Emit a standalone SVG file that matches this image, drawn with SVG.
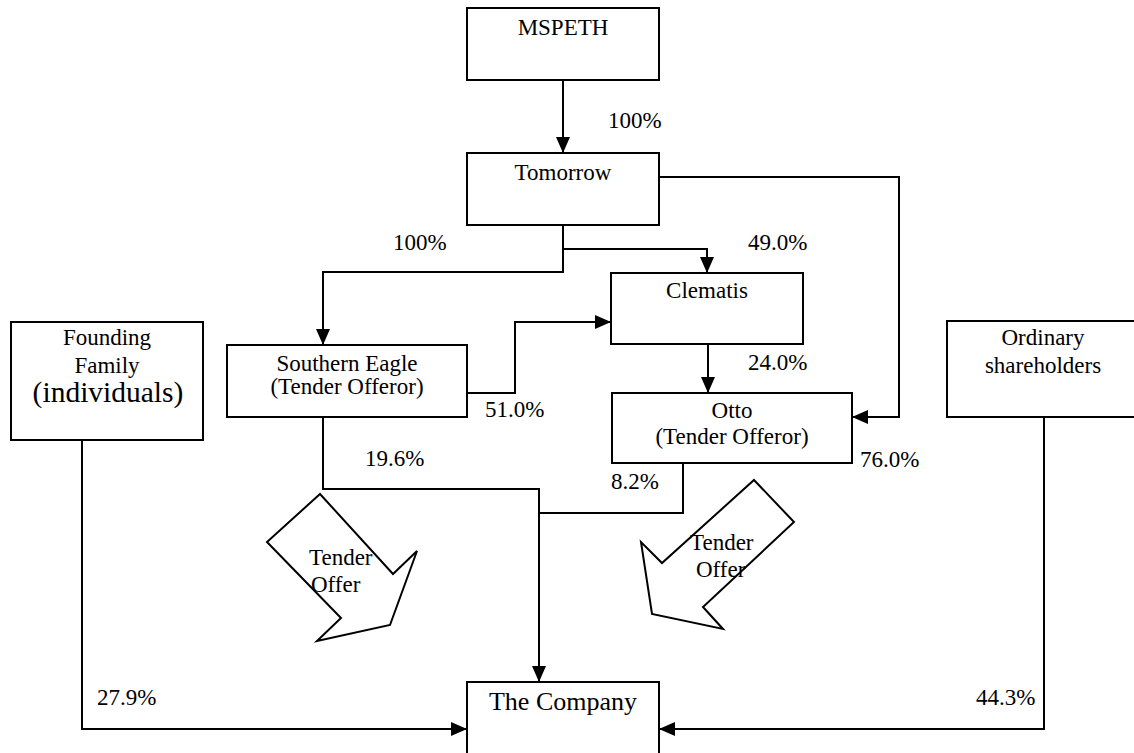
<svg xmlns="http://www.w3.org/2000/svg" width="1134" height="753" viewBox="0 0 1134 753" font-family="'Liberation Serif', 'Times New Roman', serif">
<style>
.box{fill:#fff;stroke:#000;stroke-width:2}
.ln{fill:none;stroke:#000;stroke-width:2}
.bar{fill:#fff;stroke:#000;stroke-width:2;stroke-linejoin:miter}
text{font-family:"Liberation Serif","Times New Roman",serif;font-size:23px;fill:#000}
.c{text-anchor:middle}
</style>
<defs>
<marker id="ah" markerUnits="userSpaceOnUse" markerWidth="16" markerHeight="14" refX="16" refY="7" orient="auto">
<path d="M0,0 L16,7 L0,14 z" fill="#000"/>
</marker>
</defs>
<rect width="1134" height="753" fill="#fff"/>
<g id="connectors">
<path class="ln" d="M563,80 V153" marker-end="url(#ah)"/>
<path class="ln" d="M563,225 V272 H323 V345" marker-end="url(#ah)"/>
<path class="ln" d="M563,249 H707 V273" marker-end="url(#ah)"/>
<path class="ln" d="M659,177 H899 V417 H852" marker-end="url(#ah)"/>
<path class="ln" d="M467,393 H515 V322 H611" marker-end="url(#ah)"/>
<path class="ln" d="M708,344 V393" marker-end="url(#ah)"/>
<path class="ln" d="M323,417 V489 H539 V682" marker-end="url(#ah)"/>
<path class="ln" d="M683,463 V513 H539"/>
<path class="ln" d="M82,440 V729 H467" marker-end="url(#ah)"/>
<path class="ln" d="M1044,417 V729 H659" marker-end="url(#ah)"/>
</g>
<g id="mspeth"><rect class="box" x="467" y="8" width="192" height="72"/><text class="c" x="563" y="35">MSPETH</text></g>
<g id="tomorrow"><rect class="box" x="467" y="153" width="192" height="72"/><text class="c" x="563" y="180">Tomorrow</text></g>
<g id="clematis"><rect class="box" x="611" y="273" width="192" height="71"/><text class="c" x="707" y="298">Clematis</text></g>
<g id="southern-eagle"><rect class="box" x="227" y="345" width="240" height="72"/><text class="c" x="347" y="371">Southern Eagle</text><text class="c" x="347" y="394">(Tender Offeror)</text></g>
<g id="otto"><rect class="box" x="612" y="393" width="240" height="70"/><text class="c" x="732" y="418">Otto</text><text class="c" x="732" y="444">(Tender Offeror)</text></g>
<g id="founding-family"><rect class="box" x="11" y="322" width="192" height="118"/><text class="c" x="107" y="345">Founding</text><text class="c" x="107" y="373">Family</text><text class="c" x="108" y="402" style="font-size:29.5px">(individuals)</text></g>
<g id="ordinary"><rect class="box" x="947" y="321" width="192" height="96"/><text class="c" x="1043" y="345">Ordinary</text><text class="c" x="1043" y="373">shareholders</text></g>
<g id="company"><rect class="box" x="467" y="682" width="192" height="80"/><text class="c" x="563" y="710" style="font-size:26px">The Company</text></g>
<g id="tender-left"><polygon class="bar" points="320,494 267,542 341,618 317,641 390,625 417,551 393,574"/><text x="309" y="565">Tender</text><text x="311" y="592">Offer</text></g>
<g id="tender-right"><polygon class="bar" points="754,480 794,522 703,607 723,629 652,614 641,542 662,563"/><text x="690" y="550">Tender</text><text x="696" y="577">Offer</text></g>
<g id="labels">
<text x="608" y="128">100%</text>
<text x="393" y="250">100%</text>
<text x="748" y="250">49.0%</text>
<text x="748" y="370">24.0%</text>
<text x="485" y="417">51.0%</text>
<text x="860" y="467">76.0%</text>
<text x="365" y="466">19.6%</text>
<text x="611" y="489">8.2%</text>
<text x="97" y="705">27.9%</text>
<text x="976" y="705">44.3%</text>
</g>
</svg>
